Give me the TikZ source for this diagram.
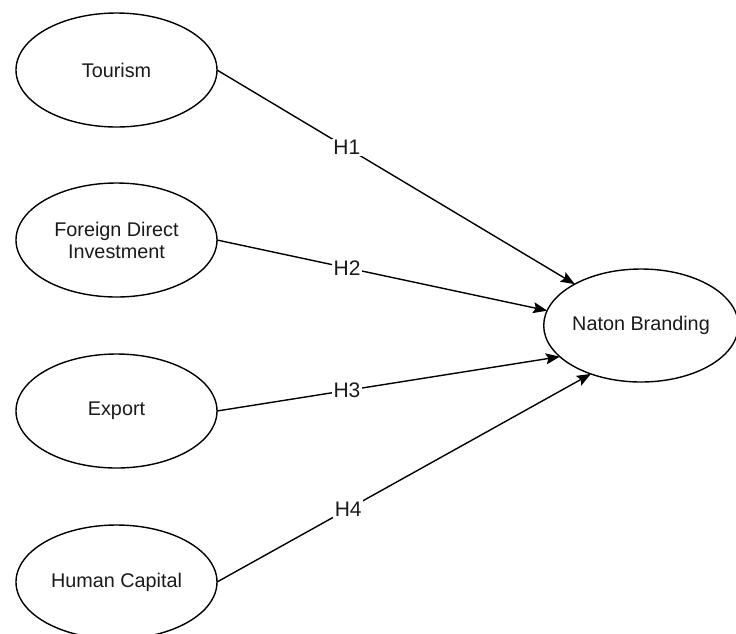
\documentclass[tikz,border=0pt]{standalone}
\usepackage{fontspec}
\setmainfont{Liberation Sans}
\usetikzlibrary{arrows.meta,shapes.geometric}
\definecolor{txt}{HTML}{1A1A1A}
\tikzset{
  ell/.style={ellipse, draw=black, line width=1.4pt, fill=white, inner sep=0pt, outer sep=0pt,
    text=txt, align=center, font=\fontsize{19.8}{22}\selectfont},
  conn/.style={draw=black, line width=1.4pt, -{Stealth[length=14pt,width=11pt,inset=2.5pt]}},
  hlab/.style={fill=white, inner sep=1.5pt, text=txt, font=\fontsize{21}{22}\selectfont}
}
\begin{document}
\begin{tikzpicture}[x=1pt,y=1pt]
\useasboundingbox (0,0) rectangle (736,-633);
\node[ell, minimum width=201pt, minimum height=114pt] (tour) at (116.5,-70) {Tourism};
\node[ell, minimum width=201pt, minimum height=114pt] (fdi) at (116.5,-240) {Foreign Direct\\Investment};
\node[ell, minimum width=201pt, minimum height=114pt] (exp) at (116.5,-411) {Export};
\node[ell, minimum width=201pt, minimum height=114pt] (hc) at (116.5,-582) {Human Capital};
\node[ell, minimum width=188pt, minimum height=113pt] (nb) at (641,-325.5) {Naton Branding};
\draw[conn] (tour.east) -- node[hlab, pos=0.363] (h1) {H1} (nb.148.8);
\draw[conn] (fdi.east) -- node[hlab, pos=0.394] (h2) {H2} (nb.171.7);
\draw[conn] (exp.east) -- node[hlab, pos=0.379] (h3) {H3} (nb.201);
\draw[conn] (hc.east) -- node[hlab, pos=0.351] (h4) {H4} (nb.224);
\end{tikzpicture}
\end{document}
